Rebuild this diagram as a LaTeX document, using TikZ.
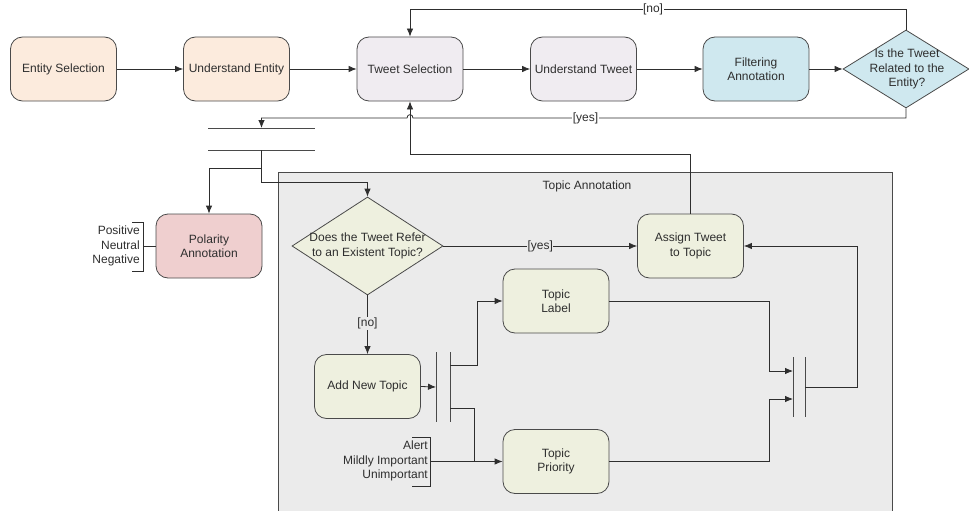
\documentclass[tikz,border=0pt]{standalone}
\usepackage{fontspec}
\setmainfont{Liberation Sans}
\usetikzlibrary{arrows.meta,shapes.geometric,calc}
\definecolor{peach}{HTML}{FCEBDD}
\definecolor{lav}{HTML}{F0ECF1}
\definecolor{aqua}{HTML}{CFE8EF}
\definecolor{rose}{HTML}{EFCFCF}
\definecolor{olive}{HTML}{EEF0DF}
\definecolor{panel}{HTML}{EBEBEB}
\definecolor{ink}{HTML}{2E2E2E}
\definecolor{edge}{HTML}{4A4A4A}
\begin{document}
\begin{tikzpicture}[x=1pt,y=-1pt,
  every node/.style={font=\fontsize{12}{14.5}\selectfont, text=ink},
  act/.style={draw=edge, line width=0.8pt, rounded corners=12pt,
    minimum width=106pt, minimum height=64pt, align=center, inner sep=2pt},
  dec/.style={draw=edge, line width=0.8pt, diamond, inner sep=0pt},
  wire/.style={draw=ink, line width=0.8pt},
  arr/.style={wire, -{Latex[length=8pt,width=6.5pt]}},
  guardw/.style={fill=white, inner sep=0.5pt},
  guardg/.style={fill=panel, inner sep=0.5pt},
  bar/.style={draw=edge, line width=1pt},
  slot/.style={inner sep=0pt, outer sep=0pt}
]
\useasboundingbox (0,0) rectangle (969,511);

% Topic annotation panel
\fill[panel] (278,172) rectangle (892,511);
\draw[edge, line width=1pt] (278,511) -- (278,172) -- (892,172) -- (892,511);
\node (paneltitle) at (587,186) {Topic Annotation};

% main row
\node[act, fill=peach] (es) at (63.5,69) {Entity Selection};
\node[act, fill=peach] (ue) at (236.5,69) {Understand Entity};
\node[act, fill=lav] (ts) at (410,69) {Tweet Selection};
\node[act, fill=lav] (ut) at (583.5,69) {Understand Tweet};
\node[act, fill=aqua] (fa) at (756,69) {Filtering\\Annotation};
\node[dec, fill=aqua, minimum width=126pt, minimum height=78pt] (rel) at (906,69) {};
\node[align=center] (reltxt) at (907,69) {Is the Tweet\\Related to the\\Entity?};

\draw[arr] (es) -- (ue);
\draw[arr] (ue) -- (ts);
\draw[arr] (ts) -- (ut);
\draw[arr] (ut) -- (fa);
\draw[arr] (fa) -- (rel.west);

% [no] loop back to tweet selection
\draw[arr] (rel.north) -- (rel.north |- 0,9.5)
  -- node[guardw, pos=0.51] (nolab) {[no]} (ts.north |- 0,9.5) -- (ts.north);

% fork after the relatedness decision
\node[slot, minimum width=107pt, minimum height=22pt] (fk1) at (261.5,139) {};
\draw[bar] (fk1.north west) -- (fk1.north east);
\draw[bar] (fk1.south west) -- (fk1.south east);

% [yes] path, hopping over the return line
\draw[arr] (rel.south) -- (rel.south |- 0,118)
  -- node[guardw, pos=0.65] (yeslab) {[yes]} (413,118)
  .. controls (413,113.5) and (407,113.5) .. (407,118)
  -- (fk1.north |- 0,118) -- (fk1.north);

% return from topic assignment
\node[act, fill=olive] (at) at (690.5,246) {Assign Tweet\\to Topic};
\draw[arr] (at.north) -- (at.north |- 0,154) -- (ts.south |- 0,154) -- (ts.south);

% polarity
\node[act, fill=rose] (pol) at (209,246) {Polarity\\Annotation};
\draw[arr] (fk1.south) -- ++(0,18) -| (pol.north);
\node[align=right, anchor=east, inner sep=1pt] (polvals) at (141,246) {Positive\\Neutral\\Negative};
\coordinate (pbt) at (143,222);
\coordinate (pbb) at (143,271);
\draw[wire, line width=0.7pt] (132,222) -- (pbt) -- (pbb) -- (132,271);
\draw[wire] (pbt |- pol.west) -- (pol.west);

% topic decision
\node[dec, fill=olive, minimum width=151pt, minimum height=98pt] (q) at (367.5,246) {};
\node[align=center] (qtxt) at (367.5,246) {Does the Tweet Refer\\to an Existent Topic?};
\draw[arr] (fk1.south) -- ++(0,32) -| (q.north);
\draw[arr] (q.east) -- node[guardg, pos=0.5] (qyes) {[yes]} (at.west);

\node[act, fill=olive] (ant) at (367.5,386.5) {Add New Topic};
\draw[arr] (q.south) -- node[guardg, pos=0.48] (qno) {[no]} (ant.north);

% fork into label and priority
\node[slot, minimum width=14pt, minimum height=70pt] (fk2) at (443,387) {};
\draw[bar] (fk2.north west) -- (fk2.south west);
\draw[bar] (fk2.north east) -- (fk2.south east);
\draw[arr] (ant.east) -- (fk2.west);

\node[act, fill=olive] (tl) at (556,301) {Topic\\Label};
\node[act, fill=olive] (tp) at (556,461.5) {Topic\\Priority};

\draw[arr] ($(fk2.east)+(0,-22)$) -- ++(27,0) |- (tl.west);
\draw[arr] ($(fk2.east)+(0,21)$) -- ++(24,0) |- (tp.west);

% priority values
\node[align=right, anchor=east, inner sep=1pt] (prvals) at (429,461) {Alert\\Mildly Important\\Unimportant};
\coordinate (qbt) at (430,437);
\coordinate (qbb) at (430,486);
\draw[wire, line width=0.7pt] (412,437) -- (qbt) -- (qbb) -- (412,486);
\draw[wire] (qbt |- tp.west) -- (474,461.5);

% join into assignment
\node[slot, minimum width=12pt, minimum height=60pt] (jn) at (799,387) {};
\draw[bar] (jn.north west) -- (jn.south west);
\draw[bar] (jn.north east) -- (jn.south east);
\draw[arr] (tl.east) -- (769,301) |- ($(jn.west)+(0,-16)$);
\draw[arr] (tp.east) -- (769,461.5) |- ($(jn.west)+(0,12)$);
\draw[arr] (jn.east) -- (857,387) |- (at.east);
\end{tikzpicture}
\end{document}
